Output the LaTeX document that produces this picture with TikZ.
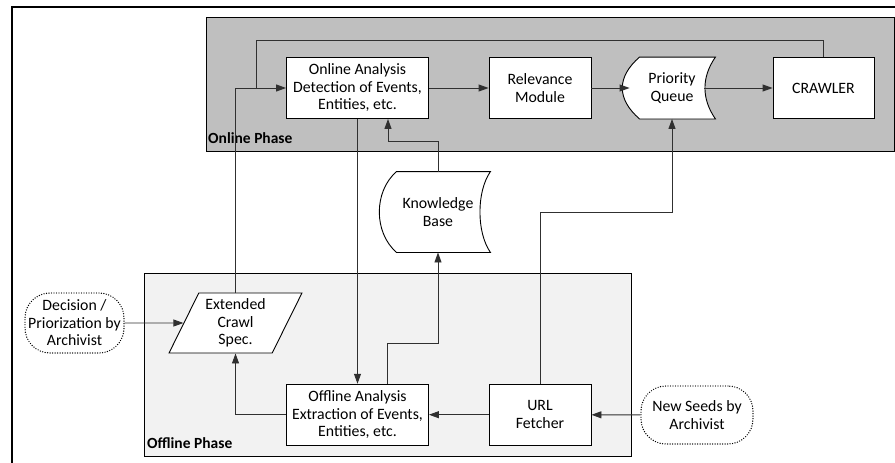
\documentclass[tikz,border=0pt]{standalone}
\usepackage{fontspec}
\setmainfont{Carlito}
\usepackage{tikz}
\usetikzlibrary{positioning}
\usetikzlibrary{arrows.meta}
\usetikzlibrary{shapes.geometric}
\definecolor{onlinegray}{HTML}{BFBFBF}
\definecolor{offlinegray}{HTML}{F2F2F2}
\definecolor{linegray}{HTML}{303030}
\tikzset {
  % every step of the crawl
  box/.style = {draw, fill=white, align=center, minimum height=61pt, line width=0.9pt, inner sep=2pt},
  % stored data, outline comes from \datastore
  store/.style = {align=center, line width=0.9pt},
  % crawl specification
  spec/.style = {draw, fill=white, align=center, trapezium, trapezium left angle=63.4,
    trapezium right angle=116.6, trapezium stretches, minimum width=133pt,
    minimum height=60pt, line width=0.9pt, inner sep=1pt},
  % the archivist
  person/.style = {draw, align=center, rounded corners=25pt, line width=1.4pt,
    dash pattern=on 0pt off 2.5pt, line cap=round, inner sep=1pt},
  % online and offline phase
  phase/.style = {draw, line width=0.9pt},
  flow/.style = {-{Triangle[length=10pt, width=7pt]}, linegray, line width=0.9pt},
  line/.style = {linegray, line width=0.9pt},
}
% outline of a stored data node: both sides bent to the left
\newcommand{\datastore}[1]{%
  \filldraw[fill=white, line width=0.9pt] ([shift={(10,0)}]#1.north west) -- ([shift={(1,0)}]#1.north east)
    .. controls ([shift={(-13,20)}]#1.north east) and ([shift={(-13,-20)}]#1.south east) .. ([shift={(1,0)}]#1.south east)
    -- ([shift={(10,0)}]#1.south west)
    .. controls ([shift={(-13,-20)}]#1.south west) and ([shift={(-13,20)}]#1.north west) .. cycle;}

\begin{document}
\begin{tikzpicture}[x=1pt, y=-1pt, font=\fontsize{15.8}{17.5}\selectfont]
        \useasboundingbox (0,0) rectangle (895,463);

        % phases
        \draw[phase, fill=onlinegray] (206,17) rectangle (894,151);
        \draw[phase, fill=offlinegray] (144,273) rectangle (631,456);
        \node[anchor=west, inner sep=1pt, font=\fontsize{15.5}{17.5}\selectfont\bfseries] (onlab) at (207,138) {Online Phase};
        \node[anchor=west, inner sep=1pt, font=\fontsize{15.5}{17.5}\selectfont\bfseries] (offlab) at (146,443) {Offline Phase};

        % frame
        \draw[line width=2pt] (12,463) -- (12,6.5) -- (895,6.5);

        \node[box, minimum width=142pt] (ona) at (357.5,88) {Online Analysis\\Detection of Events,\\Entities, etc.};
        \node[box, minimum width=102pt] (rel) at (540,88) {Relevance\\Module};
        \node[store, minimum width=84pt, minimum height=61pt] (pq) at (672,88) {};
        \node[box, minimum width=101pt] (crawler) at (823.5,88) {CRAWLER};
        \node[store, minimum width=102pt, minimum height=80pt] (kb) at (438,212) {};
        \node[spec] (ecs) at (235.5,323) {Extended\\Crawl\\Spec.};
        \node[person, minimum width=99pt, minimum height=60pt] (dec) at (74.5,323) {Decision /\\Priorization by\\Archivist};
        \node[box, minimum width=142pt] (ofa) at (357.5,414.7) {Offline Analysis\\Extraction of Events,\\Entities, etc.};
        \node[box, minimum width=102pt] (url) at (540,414.7) {URL\\Fetcher};
        \node[person, minimum width=112pt, minimum height=58pt] (seeds) at (697,415) {New Seeds by\\Archivist};

        \datastore{pq}
        \datastore{kb}
        \node[align=center] at (pq) {Priority\\Queue};
        \node[align=center] at (kb) {Knowledge\\Base};

        \coordinate (loop) at (256,40);
        \coordinate (kbup) at (388,141);
        \coordinate (ofaup) at (387,343);
        \coordinate (urlup) at (672,212);

        \draw [flow] (ona) -- (rel);
        \draw [flow] (rel) -- (pq);
        \draw [flow] ([shift={(-10,0)}]pq.east) -- (crawler);
        \draw [line] (crawler.north) |- (loop) -- (loop |- ona.west);
        \draw [flow] (ecs.north) |- (ona.west);
        \draw [flow] (ona) -- (ofa);
        \draw [flow] (kb.north) |- (kbup) -- (kbup |- ona.south);
        \draw [flow] (ofaup |- ofa.north) -- (ofaup) -| (kb.south);
        \draw [flow] (url.north) |- (urlup) -- (pq.south);
        \draw [flow] (url) -- (ofa);
        \draw [flow] (ofa.west) -| (ecs.south);
        \draw [flow] (dec) -- (ecs);
        \draw [flow] (seeds) -- (url);
      \end{tikzpicture}
\end{document}
